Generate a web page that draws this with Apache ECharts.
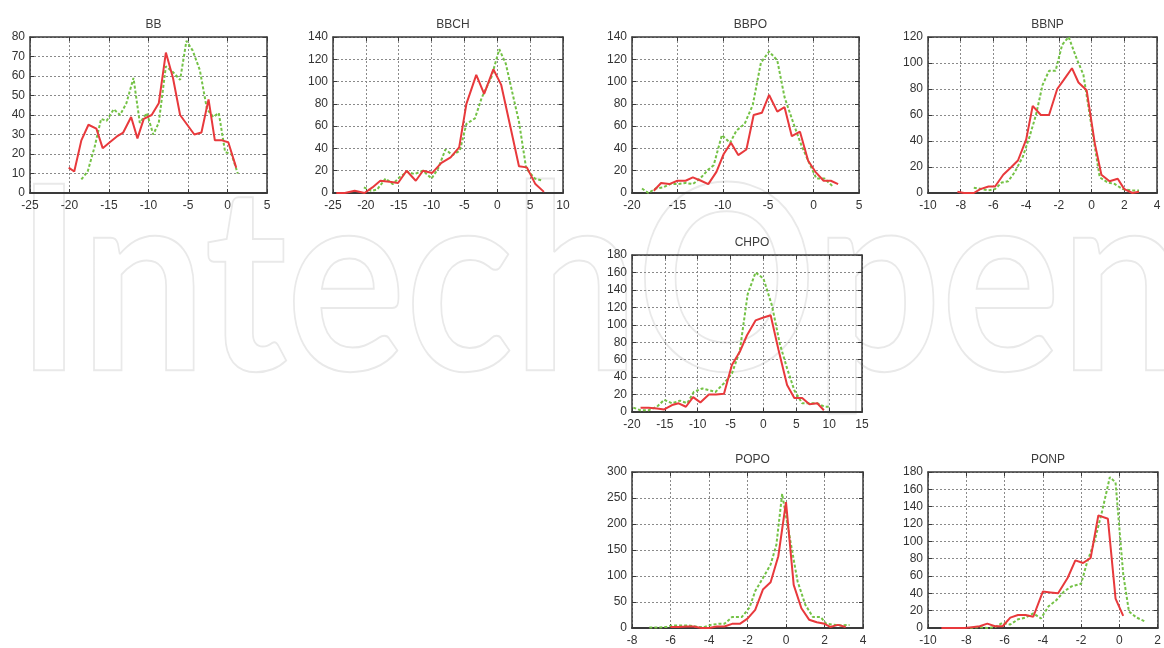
<!DOCTYPE html>
<html>
<head>
<meta charset="utf-8">
<title>Score distributions</title>
<script src="https://cdn.jsdelivr.net/npm/echarts@6/dist/echarts.min.js"></script>
<style>
  html, body { margin: 0; padding: 0; background: #ffffff; }
  #chart { width: 1164px; height: 648px; }
</style>
</head>
<body>
<div id="chart"></div>
<script>
// ---- data: red (solid) and green (dotted) curves for each panel ----
const BB_RED_X   = [-20.1,-19.4,-18.5,-17.6,-16.6,-15.8,-14.9,-14.0,-13.2,-12.2,-11.4,-10.6,-9.6,-8.7,-7.8,-6.9,-6.0,-5.1,-4.2,-3.3,-2.4,-1.6,-0.7,0.1,1.1];
const BB_RED_Y   = [13,11,27,35,33,23,26,29,31,39,28,38,40,46,72,59,40,35,30,31,48,27,27,26,13];
const BB_GREEN_X = [-18.5,-17.7,-16.8,-16.0,-15.3,-14.4,-13.6,-12.8,-11.9,-11.1,-10.2,-9.4,-8.7,-7.8,-6.9,-6.0,-5.2,-4.4,-3.5,-2.6,-1.8,-1.1,-0.3,0.5,1.3];
const BB_GREEN_Y = [7,11,24,38,37,43,40,46,59,36,41,30,36,65,62,58,78,73,63,43,39,41,21,20,10];

const BBCH_RED_X   = [-24.5,-23.2,-21.7,-20.2,-19.0,-17.8,-16.4,-15.1,-13.8,-12.4,-11.3,-9.9,-8.5,-7.1,-5.8,-4.7,-3.2,-2.0,-0.6,0.6,1.9,3.3,4.5,5.8,7.1];
const BBCH_RED_Y   = [0,0,2,0,5,11,10,9,20,11,20,18,27,32,41,80,106,89,111,97,62,24,23,8,1];
const BBCH_GREEN_X = [-20.3,-19.2,-18.3,-17.0,-15.9,-14.9,-13.7,-12.6,-11.3,-10.0,-9.0,-7.9,-6.8,-5.7,-4.7,-3.4,-2.4,-1.7,-0.9,0.3,1.3,2.1,3.3,4.4,5.7,6.9];
const BBCH_GREEN_Y = [5,2,3,13,8,14,19,17,20,13,22,39,34,38,62,67,85,94,104,129,116,95,64,22,13,11];

const BBPO_RED_X   = [-17.6,-16.8,-15.9,-15.0,-14.1,-13.3,-12.4,-11.6,-10.7,-9.9,-9.1,-8.3,-7.4,-6.6,-5.7,-4.9,-4.0,-3.2,-2.4,-1.5,-0.6,0.2,1.1,1.9,2.7];
const BBPO_RED_Y   = [2,9,8,11,11,14,11,8,19,35,45,34,39,70,72,88,73,77,51,55,29,19,11,11,8];
const BBPO_GREEN_X = [-18.9,-18.2,-17.4,-16.6,-15.8,-15.0,-14.1,-13.3,-12.5,-11.6,-11.0,-10.1,-9.2,-8.5,-7.6,-6.7,-5.8,-4.9,-4.0,-3.2,-2.2,-1.4,-0.6,0.3,1.2,2.1];
const BBPO_GREEN_Y = [4,0,4,5,8,8,9,8,13,21,25,52,45,56,62,79,117,127,119,86,62,44,29,13,13,6];

const BBNP_RED_X   = [-8.2,-7.8,-7.2,-6.8,-6.3,-5.9,-5.4,-4.9,-4.5,-4.0,-3.6,-3.1,-2.6,-2.1,-1.7,-1.2,-0.8,-0.3,0.2,0.6,1.1,1.6,2.0,2.5,2.9];
const BBNP_RED_Y   = [1,0,0,3,5,5,14,20,25,41,67,60,60,80,87,96,85,79,38,14,9,11,3,0,1];
const BBNP_GREEN_X = [-7.2,-6.7,-6.3,-5.9,-5.5,-5.1,-4.7,-4.2,-3.8,-3.4,-3.0,-2.6,-2.2,-1.8,-1.4,-0.9,-0.5,-0.1,0.5,1.0,1.4,1.9,2.4,2.9];
const BBNP_GREEN_Y = [4,3,2,3,8,9,16,28,43,60,83,94,94,114,120,103,91,59,12,8,7,3,2,2];

const CHPO_RED_X   = [-18.7,-17.5,-16.2,-15.1,-13.9,-12.9,-11.8,-10.7,-9.6,-8.3,-7.2,-6.0,-4.8,-3.6,-2.5,-1.2,-0.1,1.1,2.3,3.6,4.7,5.9,7.0,8.2,9.2];
const CHPO_RED_Y   = [5,5,4,3,8,10,6,17,11,20,20,21,54,69,88,105,108,111,71,31,16,16,9,10,2];
const CHPO_GREEN_X = [-19.8,-18.7,-17.5,-16.2,-15.1,-13.9,-12.7,-11.6,-10.6,-9.3,-8.3,-7.3,-6.0,-4.8,-3.6,-2.4,-1.2,0.0,1.3,2.5,3.6,4.7,5.9,7.0,8.2,9.3,10.1];
const CHPO_GREEN_Y = [5,2,2,6,14,10,13,10,23,27,25,23,33,44,70,135,160,153,122,78,50,25,10,10,10,6,6];

const POPO_RED_X   = [-6.0,-5.6,-5.1,-4.8,-4.4,-4.0,-3.6,-3.2,-2.8,-2.4,-2.0,-1.6,-1.2,-0.8,-0.4,0.0,0.4,0.8,1.2,1.6,2.0,2.3,2.7,3.1];
const POPO_RED_Y   = [2,2,3,3,0,0,3,3,8,8,18,35,74,88,138,242,83,38,16,11,8,2,6,2];
const POPO_GREEN_X = [-7.1,-6.6,-6.2,-5.9,-5.5,-5.1,-4.7,-4.3,-3.9,-3.5,-3.2,-2.8,-2.3,-1.9,-1.6,-1.2,-0.8,-0.5,-0.2,0.2,0.6,1.0,1.4,1.8,2.1,2.6,2.9,3.3];
const POPO_GREEN_Y = [1,1,2,5,5,5,3,1,6,8,8,21,21,39,71,96,122,160,258,173,90,45,21,21,8,6,5,6];

const PONP_RED_X   = [-9.3,-8.9,-8.5,-8.1,-7.7,-7.3,-6.9,-6.5,-6.1,-5.7,-5.3,-4.9,-4.5,-4.0,-3.6,-3.2,-2.7,-2.3,-1.9,-1.5,-1.1,-0.6,-0.2,0.2];
const PONP_RED_Y   = [0,0,0,0,1,2,5,2,2,12,15,15,13,42,41,40,58,78,75,81,130,126,34,14];
const PONP_GREEN_X = [-7.8,-7.4,-6.9,-6.5,-6.1,-5.7,-5.3,-4.9,-4.5,-4.1,-3.7,-3.3,-2.9,-2.5,-2.0,-1.7,-1.3,-0.9,-0.5,-0.2,0.2,0.5,0.9,1.3];
const PONP_GREEN_Y = [0,1,0,1,6,4,10,12,17,11,25,32,42,48,51,75,100,135,174,168,62,19,12,8];

// panel titles and axis ranges [min, max, interval]
const PANEL_NAMES = ['BB', 'BBCH', 'BBPO', 'BBNP', 'CHPO', 'POPO', 'PONP'];
const X_RANGES = [[-25,5,5], [-25,10,5], [-20,5,5], [-10,4,2], [-20,15,5], [-8,4,2], [-10,2,2]];
const Y_RANGES = [[0,80,10], [0,140,20], [0,140,20], [0,120,20], [0,180,20], [0,300,50], [0,180,20]];
const SERIES = [
  [BB_RED_X, BB_RED_Y, BB_GREEN_X, BB_GREEN_Y],
  [BBCH_RED_X, BBCH_RED_Y, BBCH_GREEN_X, BBCH_GREEN_Y],
  [BBPO_RED_X, BBPO_RED_Y, BBPO_GREEN_X, BBPO_GREEN_Y],
  [BBNP_RED_X, BBNP_RED_Y, BBNP_GREEN_X, BBNP_GREEN_Y],
  [CHPO_RED_X, CHPO_RED_Y, CHPO_GREEN_X, CHPO_GREEN_Y],
  [POPO_RED_X, POPO_RED_Y, POPO_GREEN_X, POPO_GREEN_Y],
  [PONP_RED_X, PONP_RED_Y, PONP_GREEN_X, PONP_GREEN_Y]
];

// ---- layout: plot boxes in pixels ----
const BOXES = [
  { left: 30,  top: 37,  width: 237, height: 156 },
  { left: 333, top: 37,  width: 230, height: 156 },
  { left: 632, top: 37,  width: 227, height: 156 },
  { left: 928, top: 37,  width: 229, height: 156 },
  { left: 632, top: 255, width: 230, height: 157 },
  { left: 632, top: 472, width: 231, height: 156 },
  { left: 928, top: 472, width: 230, height: 156 }
];

const RED = '#e8393c';
const GREEN = '#74c246';
const FRAME = '#3a3a3a';
const FONT = 'Liberation Sans, Arial, sans-serif';

const zip = (xs, ys) => xs.map((x, i) => [x, ys[i]]);

const grids = [], xAxes = [], yAxes = [], titles = [], series = [];

BOXES.forEach((box, i) => {
  grids.push(Object.assign({ show: false, containLabel: false }, box));
  titles.push({
    text: PANEL_NAMES[i],
    left: box.left + box.width / 2,
    top: box.top - 23,
    textAlign: 'center',
    textStyle: { fontSize: 12, fontWeight: 'normal', color: '#3c3c3c', fontFamily: FONT }
  });

  const [xmin, xmax, xint] = X_RANGES[i];
  const [ymin, ymax, yint] = Y_RANGES[i];
  const common = { type: 'value', gridIndex: i, animation: false };

  // bottom axis with labels and dotted grid
  xAxes.push(Object.assign({}, common, {
    position: 'bottom', min: xmin, max: xmax, interval: xint,
    axisLine: { show: true, onZero: false, lineStyle: { color: FRAME, width: 2 } },
    axisTick: { show: true, inside: true, length: 4, lineStyle: { color: FRAME } },
    axisLabel: { show: true, fontSize: 12, color: '#333', margin: 7, fontFamily: FONT,
                 showMinLabel: true, showMaxLabel: true },
    splitLine: { show: true, lineStyle: { color: '#8a8a8a', width: 1, type: [2, 2] } }
  }));
  // top frame with mirrored ticks
  xAxes.push(Object.assign({}, common, {
    position: 'top', min: xmin, max: xmax, interval: xint,
    axisLine: { show: true, onZero: false, lineStyle: { color: FRAME, width: 1.5 } },
    axisTick: { show: true, inside: true, length: 4, lineStyle: { color: FRAME } },
    axisLabel: { show: false }, splitLine: { show: false }
  }));
  // left axis with labels and dotted grid
  yAxes.push(Object.assign({}, common, {
    position: 'left', min: ymin, max: ymax, interval: yint,
    axisLine: { show: true, onZero: false, lineStyle: { color: FRAME, width: 1.5 } },
    axisTick: { show: true, inside: true, length: 4, lineStyle: { color: FRAME } },
    axisLabel: { show: true, fontSize: 12, color: '#333', margin: 5, fontFamily: FONT,
                 showMinLabel: true, showMaxLabel: true },
    splitLine: { show: true, lineStyle: { color: '#8a8a8a', width: 1, type: [2, 2] } }
  }));
  // right frame with mirrored ticks
  yAxes.push(Object.assign({}, common, {
    position: 'right', min: ymin, max: ymax, interval: yint,
    axisLine: { show: true, onZero: false, lineStyle: { color: FRAME, width: 1.5 } },
    axisTick: { show: true, inside: true, length: 4, lineStyle: { color: FRAME } },
    axisLabel: { show: false }, splitLine: { show: false }
  }));

  const [rx, ry, gx, gy] = SERIES[i];
  series.push({
    type: 'line', xAxisIndex: 2 * i, yAxisIndex: 2 * i,
    data: zip(gx, gy), showSymbol: false, silent: true, z: 2,
    lineStyle: { color: GREEN, width: 2, type: [3, 2] }
  });
  series.push({
    type: 'line', xAxisIndex: 2 * i, yAxisIndex: 2 * i,
    data: zip(rx, ry), showSymbol: false, silent: true, z: 3,
    lineStyle: { color: RED, width: 2 }
  });
});

// faint publisher mark behind the panels
const MARK_TEXT = 'IntechOpen';
const MARK_FONT = 'bold 258px Lato, "Open Sans", sans-serif';
const measure = document.createElement('canvas').getContext('2d');
measure.font = MARK_FONT;
const markWidth = measure.measureText(MARK_TEXT).width;
const markScale = 1170 / markWidth;

const chart = echarts.init(document.getElementById('chart'), null, { renderer: 'canvas' });
chart.setOption({
  animation: false,
  backgroundColor: '#ffffff',
  title: titles,
  grid: grids,
  xAxis: xAxes,
  yAxis: yAxes,
  series: series,
  graphic: [{
    type: 'text', z: -10, silent: true,
    x: 16, y: 416, scaleX: markScale, scaleY: 1,
    style: {
      text: MARK_TEXT,
      font: MARK_FONT,
      fill: 'rgba(0,0,0,0)',
      stroke: '#e9e9e9',
      lineWidth: 2,
      verticalAlign: 'bottom'
    }
  }]
});
</script>
</body>
</html>
